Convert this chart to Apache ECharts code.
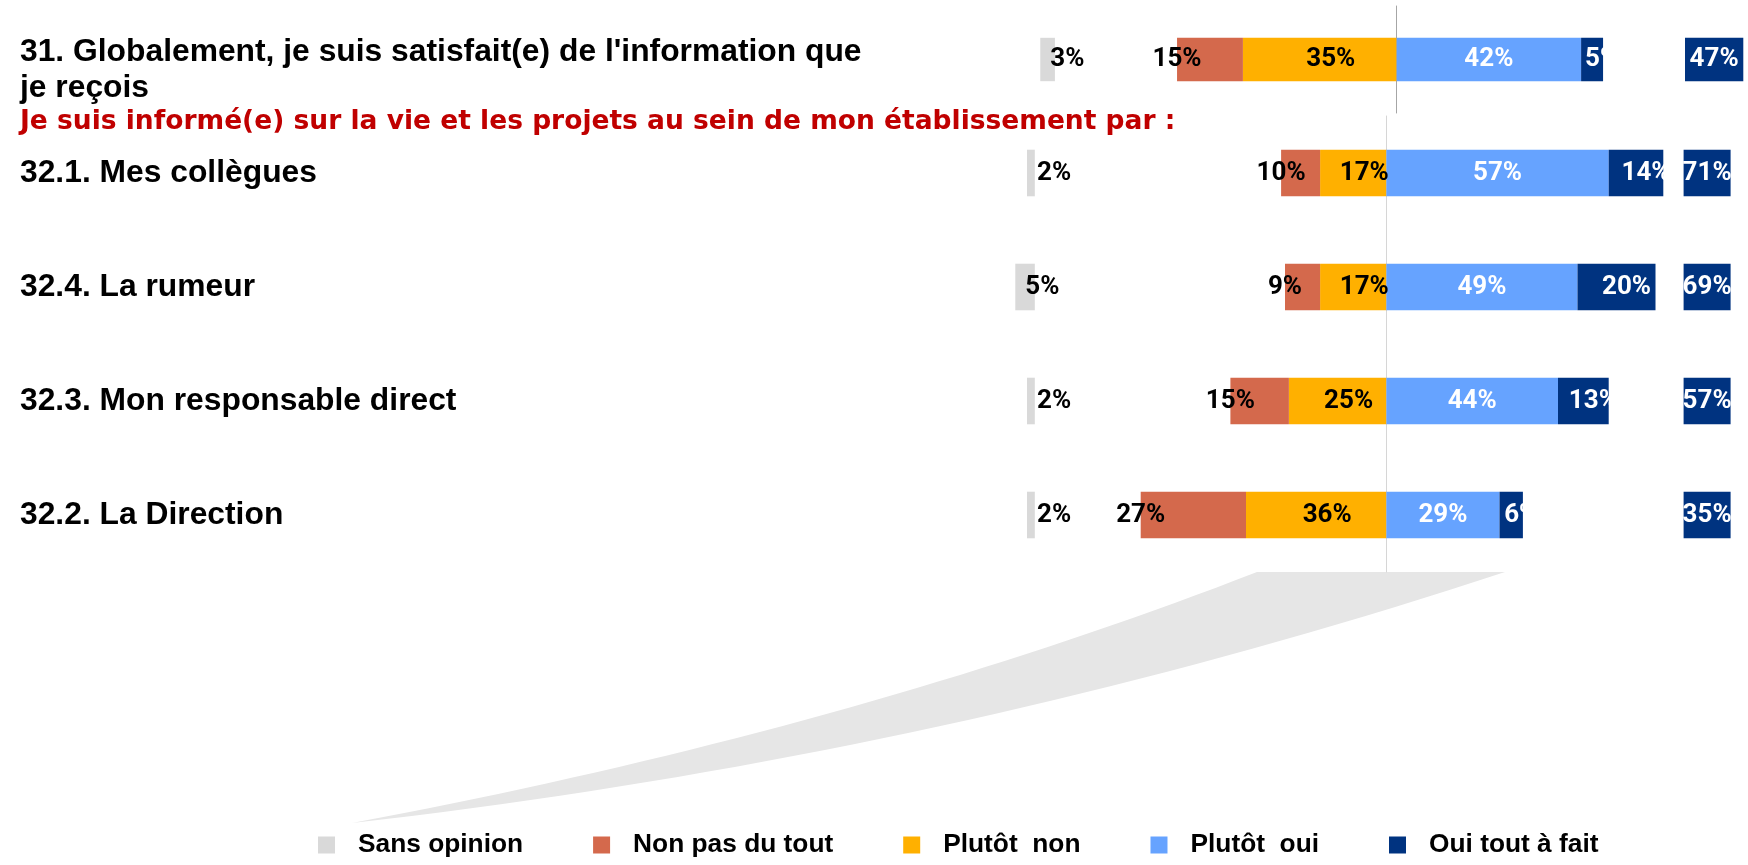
<!DOCTYPE html>
<html lang="fr">
<head>
<meta charset="utf-8">
<title>Information</title>
<script src="https://cdn.jsdelivr.net/npm/echarts@6/dist/echarts.min.js"></script>
<style>
  html, body { margin: 0; padding: 0; background: #fff; }
  #chart { width: 1748px; height: 865px; }
</style>
</head>
<body>
<div id="chart"></div>
<script>
// Survey rows (first row is question 31, the others are the 32.x sources)
const rowLabels = [
  "31. Globalement, je suis satisfait(e) de l'information que\nje reçois",
  '32.1. Mes collègues',
  '32.4. La rumeur',
  '32.3. Mon responsable direct',
  '32.2. La Direction'
];
const subtitle = 'Je suis informé(e) sur la vie et les projets au sein de mon établissement par :';
const legendNames = ['Sans opinion', 'Non pas du tout', 'Plutôt  non', 'Plutôt  oui', 'Oui tout à fait'];

// Answer shares in %
const sansOpinion  = [3, 2, 5, 2, 2];
const nonPasDuTout = [15, 10, 9, 15, 27];
const plutotNon    = [35, 17, 17, 25, 36];
const plutotOui    = [42, 57, 49, 44, 29];
const ouiToutAFait = [5, 14, 20, 13, 6];
// Positive total shown in the right-hand box
const totalsOui = plutotOui.map((v, i) => v + ouiToutAFait[i]);

const colors = {
  sans: '#D9D9D9', nonTout: '#D4694C', plutotNon: '#FFB000',
  plutotOui: '#66A3FF', ouiTout: '#003380'
};

const pctFont = "Roboto, 'DejaVu Sans Condensed', sans-serif";
const textFont = "'Liberation Sans', Arial, sans-serif";

// Two blocks: the overall question on top, then the four information sources
const blocks = [
  { rows: [0], top: 6, height: 107, grayRight: 1054.9, center: 1430.8, px: 4.88,
    barWidth: 43.4, totalLeft: 1685, totalWidth: 58.3, lineColor: '#A6A6A6' },
  { rows: [1, 2, 3, 4], top: 116, height: 456, grayRight: 1034.8, center: 1386.4, px: 3.9,
    barWidth: 46.6, totalLeft: 1683.6, totalWidth: 47, lineColor: '#D6D6D6' }
];

// Row labels as rich text; the two-line label gets a small spacer line on top
const rowLabelFormatter = v => v.indexOf('\n') >= 0
  ? '{sp| }\n' + v.split('\n').map(s => '{t|' + s + '}').join('\n')
  : '{t|' + v + '}';
const rowLabelRich = {
  t: { fontFamily: textFont, fontWeight: 'bold', fontSize: 31.8, lineHeight: 36, color: '#000' },
  sp: { fontSize: 10, lineHeight: 22 }
};

const grid = [], xAxis = [], yAxis = [], series = [];
const pctFmt = p => Math.abs(p.value) + '%';
const pctLabel = (extra) => Object.assign({
  show: true, formatter: pctFmt, fontFamily: pctFont, fontWeight: 'bold', fontSize: 26, color: '#000'
}, extra);

blocks.forEach((b, k) => {
  const cats = b.rows.map(i => rowLabels[i]);
  const pick = arr => b.rows.map(i => arr[i]);
  const g0 = k * 3;
  const grayMax = 10, mainMin = -70, mainMax = 80;
  const grayLeft = b.grayRight - grayMax * b.px;

  grid.push(
    { left: grayLeft, width: grayMax * b.px, top: b.top, height: b.height },
    { left: b.center - (0 - mainMin) * b.px, width: (mainMax - mainMin) * b.px, top: b.top, height: b.height },
    { left: b.totalLeft, width: b.totalWidth, top: b.top, height: b.height }
  );
  xAxis.push(
    { gridIndex: g0, type: 'value', inverse: true, min: 0, max: grayMax, show: false },
    { gridIndex: g0 + 1, type: 'value', min: mainMin, max: mainMax, show: false },
    { gridIndex: g0 + 2, type: 'category', data: ['Total'], show: false }
  );
  yAxis.push(
    { gridIndex: g0, type: 'category', data: cats, inverse: true,
      axisLine: { show: false }, axisTick: { show: false }, splitLine: { show: false },
      axisLabel: { show: true, align: 'left', margin: grayLeft - 20,
        formatter: rowLabelFormatter, rich: rowLabelRich } },
    { gridIndex: g0 + 1, type: 'category', data: cats, inverse: true,
      axisLine: { show: true, onZero: true, lineStyle: { color: b.lineColor, width: 1 } },
      axisTick: { show: false }, axisLabel: { show: false }, splitLine: { show: false } },
    { gridIndex: g0 + 2, type: 'category', data: cats, inverse: true, show: false }
  );

  const stack = 'block' + k;
  series.push(
    { name: 'Sans opinion', type: 'bar', xAxisIndex: g0, yAxisIndex: g0, barWidth: b.barWidth,
      data: pick(sansOpinion), itemStyle: { color: colors.sans },
      label: pctLabel({ position: 'insideLeft', distance: 10 }) },
    { name: 'Plutôt  non', type: 'bar', stack, xAxisIndex: g0 + 1, yAxisIndex: g0 + 1, barWidth: b.barWidth,
      data: pick(plutotNon).map(v => -v), itemStyle: { color: colors.plutotNon },
      label: pctLabel({ position: 'inside', offset: [11, 0] }) },
    { name: 'Non pas du tout', type: 'bar', stack, xAxisIndex: g0 + 1, yAxisIndex: g0 + 1, barWidth: b.barWidth,
      data: pick(nonPasDuTout).map(v => -v), itemStyle: { color: colors.nonTout },
      label: pctLabel({ position: [0, '50%'], align: 'center', verticalAlign: 'middle' }) },
    { name: 'Plutôt  oui', type: 'bar', stack, xAxisIndex: g0 + 1, yAxisIndex: g0 + 1, barWidth: b.barWidth,
      data: pick(plutotOui), itemStyle: { color: colors.plutotOui },
      label: pctLabel({ position: 'inside', color: '#fff' }) },
    { name: 'Oui tout à fait', type: 'bar', stack, xAxisIndex: g0 + 1, yAxisIndex: g0 + 1, barWidth: b.barWidth,
      data: pick(ouiToutAFait), itemStyle: { color: colors.ouiTout },
      label: pctLabel({ position: 'inside', offset: [10, 0], color: '#fff' }) },
    { name: 'Total oui', type: 'scatter', xAxisIndex: g0 + 2, yAxisIndex: g0 + 2,
      symbol: 'rect', symbolSize: [b.totalWidth, b.barWidth],
      data: b.rows.map((r, j) => [0, j]), itemStyle: { color: colors.ouiTout, opacity: 1 },
      label: pctLabel({ position: 'inside', color: '#fff',
        formatter: p => totalsOui[b.rows[p.dataIndex]] + '%' }) }
  );
});

// Light swoosh under the chart: outline sampled from two quadratic curves
function quad(p0, c, p1, n) {
  const pts = [];
  for (let i = 0; i <= n; i++) {
    const t = i / n, u = 1 - t;
    pts.push([u * u * p0[0] + 2 * u * t * c[0] + t * t * p1[0],
              u * u * p0[1] + 2 * u * t * c[1] + t * t * p1[1]]);
  }
  return pts;
}
const swooshPoints = quad([352, 823], [850, 730], [1257, 572], 40)
  .concat(quad([1505, 572], [950, 755], [352, 823], 40));

const chart = echarts.init(document.getElementById('chart'), null, { renderer: 'canvas' });
chart.setOption({
  backgroundColor: '#ffffff',
  animation: false,
  title: {
    text: subtitle, left: 20, top: 109, padding: 0,
    textStyle: { fontFamily: "'DejaVu Sans', Verdana, sans-serif", fontWeight: 'bold', fontSize: 26.5, color: '#C00000' }
  },
  legend: {
    data: legendNames, left: 318, top: 832, padding: 0, icon: 'rect', itemWidth: 17, itemHeight: 17, itemGap: 70,
    selectedMode: false,
    textStyle: { fontFamily: textFont, fontWeight: 'bold', fontSize: 26.3, color: '#000', padding: [0, 0, 0, 18] }
  },
  graphic: [{
    type: 'polygon', z: -1, silent: true,
    shape: { points: swooshPoints },
    style: { fill: '#E6E6E6' }
  }],
  grid, xAxis, yAxis, series
});
</script>
</body>
</html>
